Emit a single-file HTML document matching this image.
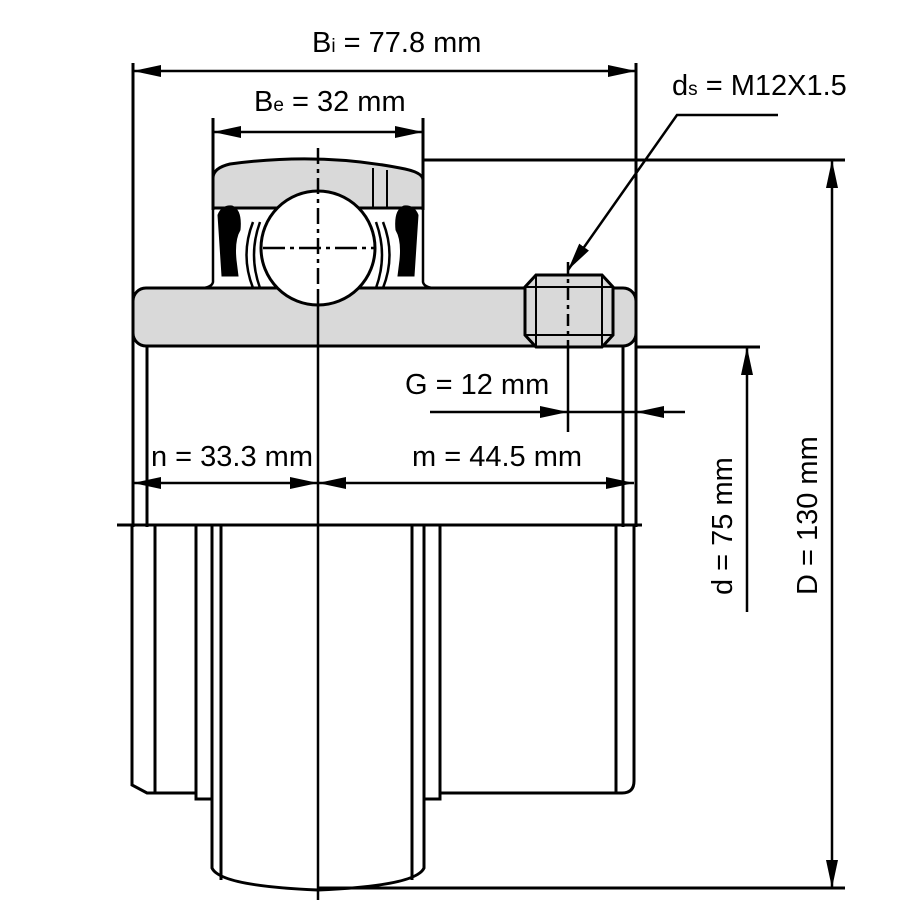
<!DOCTYPE html>
<html><head><meta charset="utf-8"><style>
html,body{margin:0;padding:0;background:#fff;}
svg{display:block;}
text{font-family:"Liberation Sans Narrow","Liberation Sans",sans-serif;font-size:29px;fill:#000;}
.s{font-size:19px;}
</style></head><body>
<svg width="900" height="900" viewBox="0 0 900 900" xmlns="http://www.w3.org/2000/svg">
<defs>
<marker id="b" viewBox="0 0 28 12" refX="28" refY="6" markerWidth="28" markerHeight="12" markerUnits="userSpaceOnUse" orient="auto-start-reverse"><path d="M0,0 L28,6 L0,12 z" fill="#000"/></marker>
</defs>
<g stroke="#000" stroke-width="3" fill="none">
<!-- housing cap -->
<path d="M213,208 L213,178 Q213,168 230,164 Q318,152 400,168 Q423,172 423,180 L423,208 Z" fill="#d9d9d9"/>
<path d="M373,168 L373,208 M387,170 L387,208" stroke-width="2"/>
<!-- seals -->
<path d="M213,208 L213,282 Q212,287 203,288 M423,208 L423,282 Q424,287 433,288" stroke-width="2.5"/>
<path d="M218,215 Q222,205 232,206 Q242,210 240,230 Q234,240 236,260 L238,276 L222,276 Z" fill="#000" stroke-width="1"/>
<path d="M418,215 Q414,205 404,206 Q394,210 396,230 Q402,240 400,260 L398,276 L414,276 Z" fill="#000" stroke-width="1"/>
<path d="M253,222 Q240,255 253,288 M260,222 Q248,255 260,288 M383,222 Q396,255 383,288 M376,222 Q388,255 376,288" stroke-width="2.5"/>
<!-- base plate -->
<rect x="133" y="288" width="503" height="58" rx="13" fill="#d9d9d9"/>
<!-- ball -->
<circle cx="318" cy="248" r="57" fill="#fff"/>
<path d="M263,248 H375" stroke-width="2.5" stroke-dasharray="22,5,4,5"/>
<!-- nut -->
<path d="M536,275 H602 L613,287 V335 L602,347 H536 L525,335 V287 Z" fill="#d9d9d9"/>
<path d="M536,275 V347 M602,275 V347 M525,287 H613 M525,335 H613" stroke-width="2"/>
<path d="M568,262 V346" stroke-width="2.5" stroke-dasharray="12,5,4,5"/>
<path d="M568,346 V432" stroke-width="2.5"/>
<!-- center line -->
<path d="M318,148 V290" stroke-width="2.5" stroke-dasharray="16,5,4,5"/>
<path d="M318,290 V900" stroke-width="2.5"/>
<!-- outer verticals -->
<path d="M133,63 V527 M636,63 V527 M147,346 V527 M623,346 V527"/>
<path d="M213,118 V210 M423,118 V210"/>
<!-- extension lines -->
<path d="M423,160 H845 M636,347 H760 M318,888 H845"/>
<path d="M117,525 H642"/>
<!-- lower collar -->
<path d="M132,525 V785 L147,793 H196 V525 M155,525 V793 M196,793 V799 H212 M212,525 V868 Q220,886 318,890 M221,525 V880"/>
<path d="M424,525 V868 Q416,886 318,890 M412,525 V880 M424,799 H440 V525 M440,793 H622 Q634,793 634,781 V525 M616,525 V793"/>
<!-- dimension arrows -->
<g stroke-width="2.5">
<path d="M133,71 H636" marker-start="url(#b)" marker-end="url(#b)"/>
<path d="M213,132 H423" marker-start="url(#b)" marker-end="url(#b)"/>
<path d="M133,483 H318" marker-start="url(#b)" marker-end="url(#b)"/>
<path d="M318,483 H634" marker-start="url(#b)" marker-end="url(#b)"/>
<path d="M430,412 H568" marker-end="url(#b)"/>
<path d="M568,412 H636"/>
<path d="M685,412 H636" marker-end="url(#b)"/>
<path d="M747,612 V347" marker-end="url(#b)"/>
<path d="M832,160 V888" marker-start="url(#b)" marker-end="url(#b)"/>
<path d="M778,115 H677 L568,270" marker-end="url(#b)"/>
</g>
</g>
<text x="312" y="52">B<tspan class="s">i</tspan> = 77.8 mm</text>
<text x="254" y="111">B<tspan class="s">e</tspan> = 32 mm</text>
<text x="672" y="95">d<tspan class="s">s</tspan> = M12X1.5</text>
<text x="405" y="394">G = 12 mm</text>
<text x="151" y="466">n = 33.3 mm</text>
<text x="412" y="466">m = 44.5 mm</text>
<text transform="translate(732,595) rotate(-90)">d = 75 mm</text>
<text transform="translate(817,595) rotate(-90)">D = 130 mm</text>
</svg>
</body></html>
